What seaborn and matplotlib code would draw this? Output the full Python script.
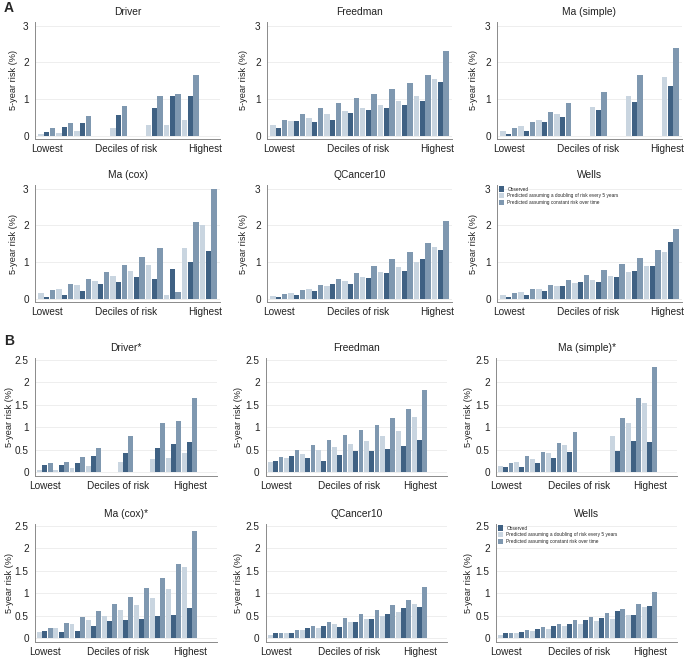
import numpy as np
import pandas as pd
import matplotlib
matplotlib.use("Agg")
import matplotlib.pyplot as plt
import seaborn as sns
from matplotlib.patches import Patch

nan = np.nan

deciles = list(range(1, 11))
s_obs = "Observed"
s_dbl = "Predicted assuming a doubling of risk every 5 years"
s_con = "Predicted assuming constant risk over time"

# ---------------- Section A ----------------
a_driver_obs = [0.11, 0.24, 0.35, nan, 0.57, nan, 0.76, 1.10, 1.08, nan]
a_driver_dbl = [0.06, 0.09, 0.15, nan, 0.22, nan, 0.30, 0.30, 0.44, nan]
a_driver_con = [0.22, 0.35, 0.55, nan, 0.81, nan, 1.10, 1.15, 1.66, nan]

a_freedman_obs = [0.22, 0.40, 0.39, 0.44, 0.63, 0.71, 0.76, 0.85, 0.94, 1.46]
a_freedman_dbl = [0.30, 0.40, 0.50, 0.60, 0.69, 0.77, 0.85, 0.96, 1.10, 1.54]
a_freedman_con = [0.43, 0.60, 0.76, 0.89, 1.03, 1.15, 1.27, 1.43, 1.65, 2.32]

a_masimple_obs = [0.06, 0.14, 0.39, 0.52, nan, 0.72, nan, 0.93, nan, 1.35]
a_masimple_dbl = [0.14, 0.27, 0.43, 0.60, nan, 0.80, nan, 1.10, nan, 1.60]
a_masimple_con = [0.21, 0.39, 0.65, 0.90, nan, 1.20, nan, 1.66, nan, 2.40]

a_macox_obs = [0.06, 0.10, 0.21, 0.40, 0.46, 0.59, 0.55, 0.82, 1.02, 1.31]
a_macox_dbl = [0.16, 0.27, 0.37, 0.48, 0.62, 0.77, 0.93, 0.11, 1.40, 2.00]
a_macox_con = [0.24, 0.40, 0.55, 0.74, 0.93, 1.15, 1.40, 0.18, 2.10, 2.98]

a_qcancer_obs = [0.06, 0.11, 0.23, 0.40, 0.41, 0.56, 0.71, 0.77, 1.09, 1.34]
a_qcancer_dbl = [0.09, 0.17, 0.26, 0.36, 0.49, 0.60, 0.73, 0.86, 1.02, 1.42]
a_qcancer_con = [0.14, 0.25, 0.38, 0.55, 0.72, 0.90, 1.08, 1.28, 1.53, 2.12]

a_wells_obs = [0.05, 0.10, 0.21, 0.35, 0.46, 0.47, 0.60, 0.75, 0.91, 1.56]
a_wells_dbl = [0.12, 0.18, 0.26, 0.35, 0.45, 0.53, 0.62, 0.74, 0.90, 1.28]
a_wells_con = [0.17, 0.27, 0.38, 0.52, 0.66, 0.80, 0.94, 1.11, 1.33, 1.90]

# ---------------- Section B ----------------
b_driver_obs = [0.16, 0.17, 0.20, 0.37, nan, 0.42, nan, 0.54, 0.63, 0.67]
b_driver_dbl = [0.06, 0.06, 0.09, 0.14, nan, 0.22, nan, 0.30, 0.31, 0.44]
b_driver_con = [0.20, 0.22, 0.35, 0.55, nan, 0.80, nan, 1.10, 1.15, 1.65]

b_freedman_obs = [0.26, 0.36, 0.33, 0.26, 0.38, 0.48, 0.47, 0.51, 0.59, 0.72]
b_freedman_dbl = [0.24, 0.33, 0.41, 0.49, 0.56, 0.63, 0.70, 0.80, 0.93, 1.23]
b_freedman_con = [0.35, 0.50, 0.61, 0.72, 0.83, 0.94, 1.06, 1.20, 1.40, 1.84]

b_masimple_obs = [0.13, 0.12, 0.20, 0.33, 0.46, nan, nan, 0.48, 0.69, 0.68]
b_masimple_dbl = [0.14, 0.24, 0.30, 0.44, 0.60, nan, nan, 0.80, 1.10, 1.55]
b_masimple_con = [0.21, 0.36, 0.45, 0.65, 0.90, nan, nan, 1.20, 1.65, 2.33]

b_macox_obs = [0.16, 0.14, 0.16, 0.27, 0.38, 0.40, 0.44, 0.50, 0.53, 0.67]
b_macox_dbl = [0.15, 0.23, 0.32, 0.41, 0.50, 0.62, 0.75, 0.90, 1.10, 1.59]
b_macox_con = [0.23, 0.35, 0.47, 0.60, 0.76, 0.93, 1.12, 1.35, 1.66, 2.38]

b_qcancer_obs = [0.12, 0.13, 0.22, 0.28, 0.26, 0.37, 0.42, 0.54, 0.68, 0.70]
b_qcancer_dbl = [0.07, 0.12, 0.18, 0.24, 0.31, 0.37, 0.43, 0.50, 0.58, 0.77]
b_qcancer_con = [0.11, 0.19, 0.27, 0.36, 0.46, 0.55, 0.64, 0.75, 0.86, 1.14]

b_wells_obs = [0.12, 0.14, 0.21, 0.27, 0.32, 0.41, 0.45, 0.60, 0.51, 0.73]
b_wells_dbl = [0.07, 0.12, 0.16, 0.20, 0.27, 0.33, 0.38, 0.44, 0.51, 0.70]
b_wells_con = [0.11, 0.18, 0.25, 0.32, 0.40, 0.48, 0.57, 0.65, 0.77, 1.04]

a_yticks = [0, 1, 2, 3]
a_yticklabels = ["0", "1", "2", "3"]
b_yticks = [0, 0.5, 1, 1.5, 2, 2.5]
b_yticklabels = ["0", "0.5", "1", "1.5", "2", "2.5"]
xlabels = ["Lowest", "Deciles of risk", "Highest"]

C_DARK = "#3f6183"
C_LIGHT = "#c9d5e0"
C_MED = "#7f98b0"
palette = {s_obs: C_DARK, s_dbl: C_LIGHT, s_con: C_MED}

sns.set_theme(style="white")
plt.rcParams['font.family'] = ['Liberation Sans', 'DejaVu Sans']

W, H = 685, 657
fig = plt.figure(figsize=(W / 100, H / 100), dpi=100)

def box(x0, x1, y_top, y_bot):
    return [x0 / W, 1 - y_bot / H, (x1 - x0) / W, (y_bot - y_top) / H]

panels = [
    ("Driver", a_driver_obs, a_driver_dbl, a_driver_con, box(35, 220, 22, 139), "A", 17),
    ("Freedman", a_freedman_obs, a_freedman_dbl, a_freedman_con, box(267, 452, 22, 139), "A", 19),
    ("Ma (simple)", a_masimple_obs, a_masimple_dbl, a_masimple_con, box(497, 682, 22, 139), "A", 19),
    ("Ma (cox)", a_macox_obs, a_macox_dbl, a_macox_con, box(35, 220, 185, 302), "A", 17),
    ("QCancer10", a_qcancer_obs, a_qcancer_dbl, a_qcancer_con, box(267, 452, 185, 302), "A", 19),
    ("Wells", a_wells_obs, a_wells_dbl, a_wells_con, box(497, 682, 185, 302), "A", 19),
    ("Driver*", b_driver_obs, b_driver_dbl, b_driver_con, box(35, 217, 358, 476), "B", 21),
    ("Freedman", b_freedman_obs, b_freedman_dbl, b_freedman_con, box(266, 447, 358, 476), "B", 23),
    ("Ma (simple)*", b_masimple_obs, b_masimple_dbl, b_masimple_con, box(496, 677, 358, 476), "B", 23),
    ("Ma (cox)*", b_macox_obs, b_macox_dbl, b_macox_con, box(35, 217, 524, 642), "B", 21),
    ("QCancer10", b_qcancer_obs, b_qcancer_dbl, b_qcancer_con, box(266, 447, 524, 642), "B", 23),
    ("Wells", b_wells_obs, b_wells_dbl, b_wells_con, box(496, 677, 524, 642), "B", 23),
]

SPINE = "#8a8a8a"
for title, obs, dbl, con, rect, sec, yl_off in panels:
    ax = fig.add_axes(rect)
    df = pd.DataFrame({
        "decile": deciles * 3,
        "risk": list(dbl) + list(obs) + list(con),
        "series": [s_dbl] * 10 + [s_obs] * 10 + [s_con] * 10,
    })
    sns.barplot(data=df, x="decile", y="risk", hue="series",
                hue_order=[s_dbl, s_obs, s_con], order=deciles,
                palette=palette, saturation=1, width=0.96, gap=0.04,
                linewidth=0, edgecolor="none",
                errorbar=None, legend=False, ax=ax)
    if sec == "A":
        ax.set_ylim(-0.08, 3.1)
        ax.set_yticks(a_yticks)
        ax.set_yticklabels(a_yticklabels)
        ax.set_xlim(-0.65, 9.65)
        lab_pos = [0, 4.4, 8.8]
    else:
        ax.set_ylim(-0.08, 2.54)
        ax.set_yticks(b_yticks)
        ax.set_yticklabels(b_yticklabels)
        ax.set_xlim(-0.62, 10.7)
        lab_pos = [0, 4.55, 9]
    pxw = rect[2] * W
    ax.set_xticks(range(10))
    ax.set_xticklabels([])
    ax.set_xlabel("")
    ax.set_ylabel("5-year risk (%)", fontsize=6.6, color="#222222")
    ax.yaxis.set_label_coords(-yl_off / pxw, 0.5)
    ax.set_title(title, fontsize=7.4, pad=5, color="#222222")
    ax.grid(axis="y", color="#ebebeb", linewidth=0.6)
    ax.set_axisbelow(True)
    for s in ["top", "right"]:
        ax.spines[s].set_visible(False)
    for s in ["left", "bottom"]:
        ax.spines[s].set_color(SPINE)
        ax.spines[s].set_linewidth(0.7)
    ax.tick_params(axis="both", which="both", direction="out", length=2.5,
                   width=0.6, color=SPINE, labelsize=7.2, labelcolor="#222222", pad=2)
    for xp, lab in zip(lab_pos, xlabels):
        ax.annotate(lab, xy=(xp, 0), xycoords=("data", "axes fraction"),
                    xytext=(0, -7.3), textcoords="offset points",
                    ha="center", va="center", fontsize=7.2, color="#222222")
    if title == "Wells":
        handles = [Patch(facecolor=C_DARK, edgecolor="none", linewidth=0),
                   Patch(facecolor=C_LIGHT, edgecolor="none", linewidth=0),
                   Patch(facecolor=C_MED, edgecolor="none", linewidth=0)]
        ax.legend(handles, [s_obs, s_dbl, s_con], loc="upper left",
                  bbox_to_anchor=(0.005, 1.0),
                  fontsize=3.4, frameon=False, handlelength=0.9,
                  handleheight=1.3, handletextpad=0.8, labelspacing=0.3,
                  borderpad=0.2, borderaxespad=0.1)

fig.text(4 / W, 1 - 8 / H, "A", fontsize=10, fontweight="bold", va="center", ha="left")
fig.text(4 / W, 1 - 341 / H, "B", fontsize=10, fontweight="bold", va="center", ha="left")

fig.savefig("out.png", dpi=100, facecolor="white")
